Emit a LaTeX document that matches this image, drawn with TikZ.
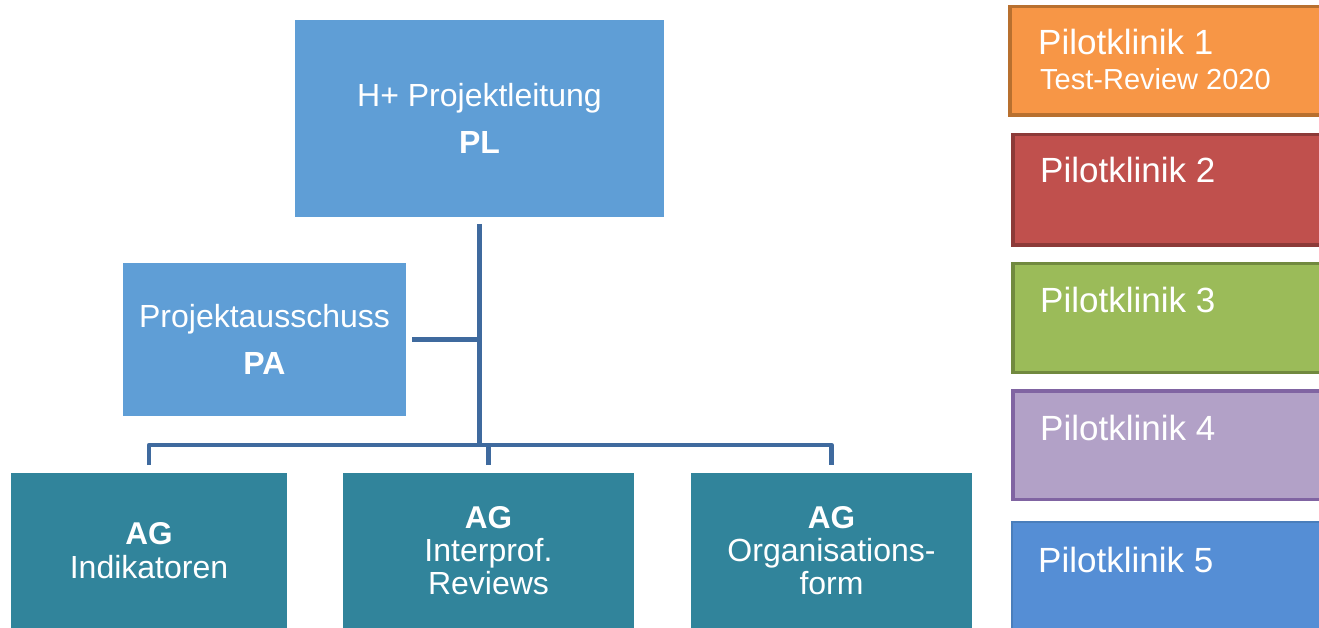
\documentclass[tikz,border=0pt]{standalone}
\usepackage{fontspec}
\setmainfont{Liberation Sans}
\definecolor{plblue}{HTML}{5F9ED6}
\definecolor{agteal}{HTML}{31849B}
\definecolor{conncol}{HTML}{3F6A9E}
\definecolor{p1fill}{HTML}{F79646}
\definecolor{p1line}{HTML}{B8702F}
\definecolor{p2fill}{HTML}{C0504D}
\definecolor{p2line}{HTML}{8C3A38}
\definecolor{p3fill}{HTML}{9BBB59}
\definecolor{p3line}{HTML}{71893F}
\definecolor{p4fill}{HTML}{B2A1C7}
\definecolor{p4line}{HTML}{8064A2}
\definecolor{p5fill}{HTML}{558ED5}
\definecolor{p5line}{HTML}{4A7EBB}
\newcommand{\agtitle}[1]{{\fontsize{31.5}{33}\selectfont\bfseries #1}}
\tikzset{
  boxbase/.style={rectangle, inner sep=0pt, outer sep=0pt, anchor=north west, text=white, align=center},
  lead/.style={boxbase, fill=plblue, font=\fontsize{32}{47}\selectfont},
  agbox/.style={boxbase, fill=agteal, minimum height=155pt, font=\fontsize{32}{33}\selectfont},
  pbox/.style={boxbase, line width=3.5pt, minimum width=340pt},
  ptext/.style={anchor=base west, inner sep=0pt, text=white, font=\fontsize{35}{40}\selectfont},
  psub/.style={anchor=base west, inner sep=0pt, text=white, font=\fontsize{29}{32}\selectfont},
  conn/.style={draw=conncol, line width=4.5pt, line join=round}
}
\begin{document}
\begin{tikzpicture}[x=1pt,y=-1pt]
\useasboundingbox (0,0) rectangle (1319,628);
\clip (0,0) rectangle (1319,628);
% central boxes
\node[lead, minimum width=369pt, minimum height=197pt] (pl) at (295,20) {H+ Projektleitung\\\textbf{PL}};
\node[lead, minimum width=283pt, minimum height=153pt] (pa) at (123,263) {Projektausschuss\\\textbf{PA}};
\node[agbox, minimum width=276pt] (ag1) at (11,473) {\agtitle{AG}\\[1pt]Indikatoren};
\node[agbox, minimum width=291pt] (ag2) at (343,473) {\agtitle{AG}\\Interprof.\\Reviews};
\node[agbox, minimum width=281pt] (ag3) at (691,473) {\agtitle{AG}\\Organisations-\\form};
% connectors
\coordinate (bar) at (0,445);
\draw[conn] ([yshift=-7pt]pl.south) -- (pl.south |- bar);
\draw[conn] ([xshift=6pt]pa.east) -- (pa.east -| pl.south);
\draw[conn] ([yshift=8pt]ag1.north) -- (ag1.north |- bar) -- (ag3.north |- bar) -- ([yshift=8pt]ag3.north);
\draw[conn] ([yshift=8pt]ag2.north) -- (ag2.north |- bar);
% pilot clinics
\node[pbox, fill=p1fill, draw=p1line, minimum height=108.5pt] (p1) at (1009.75,6.75) {};
\node[pbox, fill=p2fill, draw=p2line, minimum height=110.5pt] (p2) at (1012.75,134.75) {};
\node[pbox, fill=p3fill, draw=p3line, minimum height=108.5pt] (p3) at (1012.75,263.75) {};
\node[pbox, fill=p4fill, draw=p4line, minimum height=108.5pt] (p4) at (1012.75,390.75) {};
\node[pbox, fill=p5fill, draw=p5line, line width=1.5pt, minimum height=120pt] (p5) at (1011.75,521.75) {};
\node[ptext] (p1t) at (1038,55) {Pilotklinik 1};
\node[psub] (p1s) at (1040,90) {Test-Review 2020};
\node[ptext] (p2t) at (1040,183) {Pilotklinik 2};
\node[ptext] (p3t) at (1040,312) {Pilotklinik 3};
\node[ptext] (p4t) at (1040,440) {Pilotklinik 4};
\node[ptext] (p5t) at (1038,572) {Pilotklinik 5};
\end{tikzpicture}
\end{document}
